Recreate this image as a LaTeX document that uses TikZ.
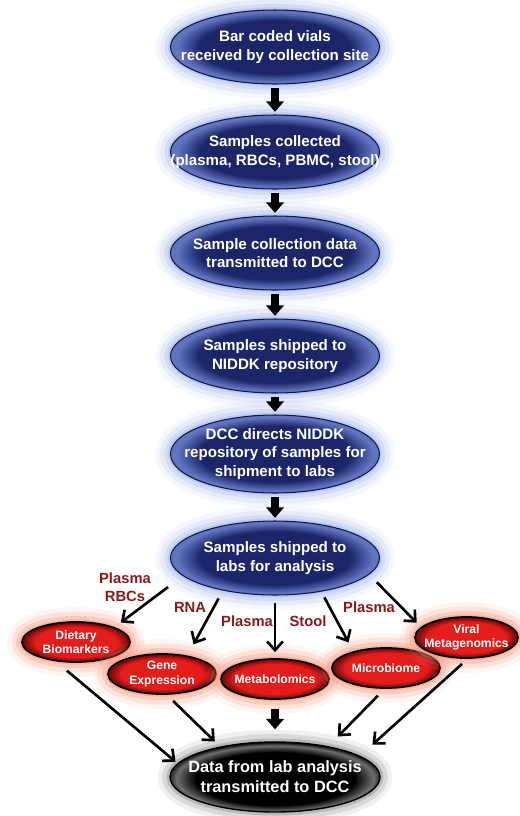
\documentclass[tikz,border=0pt]{standalone}
\usepackage{fontspec}
\setmainfont{Liberation Sans}
\usetikzlibrary{shapes.geometric,arrows.meta}

\definecolor{navyin}{RGB}{27,37,104}
\definecolor{navyrim}{RGB}{96,116,192}
\definecolor{navyedge}{RGB}{18,24,70}
\definecolor{blueglow}{RGB}{150,172,232}
\definecolor{redin}{RGB}{228,28,28}
\definecolor{redrim}{RGB}{120,10,10}
\definecolor{redglow}{RGB}{246,150,120}
\definecolor{blackrim}{RGB}{110,110,110}
\definecolor{greyglow}{RGB}{110,110,110}
\definecolor{lblred}{RGB}{138,26,26}

% the path's bounding box maps to the inner 25bp radius
\pgfdeclareradialshading{bluebevel}{\pgfpoint{0bp}{0bp}}{color(0bp)=(navyin); color(18bp)=(navyin); color(23.5bp)=(navyrim); color(25bp)=(navyrim); color(50bp)=(navyrim)}
\pgfdeclareradialshading{redbevel}{\pgfpoint{0bp}{0bp}}{color(0bp)=(redin); color(19bp)=(redin); color(24bp)=(redrim); color(25bp)=(redrim); color(50bp)=(redrim)}
\pgfdeclareradialshading{blackbevel}{\pgfpoint{0bp}{-2bp}}{color(0bp)=(black); color(19bp)=(black); color(23.5bp)=(blackrim); color(26bp)=(black); color(50bp)=(black)}

\begin{document}
\begin{tikzpicture}[x=0.02cm, y=-0.02cm,
        stage/.style={ellipse, minimum width=4.18cm, minimum height=1.48cm,
                      inner xsep=-30pt, inner ysep=-4pt, shading=bluebevel,
                      draw=navyedge, line width=0.6pt, text=white, align=center,
                      font=\fontsize{8.6}{10.5}\selectfont\bfseries,
                      preaction={draw=blueglow, line width=17pt, opacity=0.1},
                      preaction={draw=blueglow, line width=12pt, opacity=0.15},
                      preaction={draw=blueglow, line width=7pt, opacity=0.25},
                      preaction={draw=blueglow, line width=3pt, opacity=0.35}},
        lab/.style  ={ellipse, minimum width=2.16cm, minimum height=0.8cm,
                      inner xsep=-20pt, inner ysep=-3pt, shading=redbevel,
                      draw=black, line width=1pt, text=white, align=center,
                      font=\fontsize{6.9}{8}\selectfont\bfseries,
                      preaction={draw=redglow, line width=17pt, opacity=0.1},
                      preaction={draw=redglow, line width=12pt, opacity=0.18},
                      preaction={draw=redglow, line width=7pt, opacity=0.3},
                      preaction={draw=redglow, line width=3pt, opacity=0.4}},
        sink/.style ={ellipse, minimum width=4.2cm, minimum height=1.4cm,
                      inner xsep=-30pt, inner ysep=-4pt, shading=blackbevel,
                      draw=black, line width=0.8pt, text=white, align=center,
                      font=\fontsize{9.3}{11.3}\selectfont\bfseries,
                      preaction={draw=greyglow, line width=14pt, opacity=0.1},
                      preaction={draw=greyglow, line width=9pt, opacity=0.18},
                      preaction={draw=greyglow, line width=4pt, opacity=0.3}},
        lbl/.style  ={text=lblred, align=center, inner sep=0pt,
                      font=\fontsize{8.4}{10.2}\selectfont\bfseries},
        blk/.style  ={-{Triangle[width=10pt,length=6pt]}, line width=4pt,
                      shorten <=2pt, shorten >=1.5pt},
        arr/.style  ={-{Straight Barb[width=9pt,length=5pt]}, line width=1.5pt},
    ]
        \useasboundingbox (0,0) rectangle (520,816);

        % Sample flow
        \node[stage] (vials)   at (275,47)  {Bar coded vials\\received by collection site};
        \node[stage] (collect) at (275,152) {Samples collected\\(plasma, RBCs, PBMC, stool)};
        \node[stage] (sendata) at (275,253) {Sample collection data\\transmitted to DCC};
        \node[stage] (repo)    at (275,356) {Samples shipped to\\NIDDK repository};
        \node[stage, minimum height=1.56cm]
                     (directs) at (275,454) {DCC directs NIDDK\\repository of samples for\\shipment to labs};
        \node[stage] (tolabs)  at (275,558) {Samples shipped to\\labs for analysis};

        \draw[blk] (vials)   -- (collect);
        \draw[blk] (collect) -- (sendata);
        \draw[blk] (sendata) -- (repo);
        \draw[blk] (repo)    -- (directs);
        \draw[blk] (directs) -- (tolabs);

        % Labs
        \node[lab] (diet)  at (76,642)    {Dietary\\Biomarkers};
        \node[lab] (gene)  at (162,674)   {Gene\\Expression};
        \node[lab] (metab) at (275,679)   {Metabolomics};
        \node[lab] (micro) at (386,668)   {Microbiome};
        \node[lab, minimum width=2.06cm, minimum height=0.82cm]
                   (viral) at (466.5,637.5) {Viral\\Metagenomics};

        % Sample types
        \node[lbl] (lplrbc) at (125,587) {Plasma\\RBCs};
        \node[lbl] (lrna)   at (190,607) {RNA};
        \node[lbl] (lplm)   at (247,621) {Plasma};
        \node[lbl] (lstool) at (308,621) {Stool};
        \node[lbl] (lplv)   at (369,607) {Plasma};

        \draw[arr, shorten <=10.5pt, shorten >=4.4pt] (tolabs.191) -- (diet.21);
        \draw[arr, shorten <=5.1pt,  shorten >=7.3pt] (tolabs.212) -- (gene.36);
        \draw[arr, shorten <=4.5pt,  shorten >=3.4pt] (tolabs.south) -- (metab.north);
        \draw[arr, shorten <=3.7pt,  shorten >=5.7pt] (tolabs.324) -- (micro.153);
        \draw[arr, shorten <=6.2pt,  shorten >=3.4pt] (tolabs.350) -- (viral.167);

        % Results
        \node[sink] (results) at (275,777) {Data from lab analysis\\transmitted to DCC};

        \draw[arr, shorten <=8.2pt, shorten >=1.4pt] (diet.224)  -- (results.172);
        \draw[arr, shorten <=5pt,   shorten >=4.1pt] (gene.283)  -- (results.151);
        \draw[blk, shorten <=5pt,   shorten >=6.8pt] (metab.south) -- (results.north);
        \draw[arr, shorten <=5.4pt, shorten >=7.7pt] (micro.266) -- (results.30);
        \draw[arr, shorten <=4.3pt, shorten >=9.5pt] (viral.273) -- (results.14);
    \end{tikzpicture}
\end{document}
